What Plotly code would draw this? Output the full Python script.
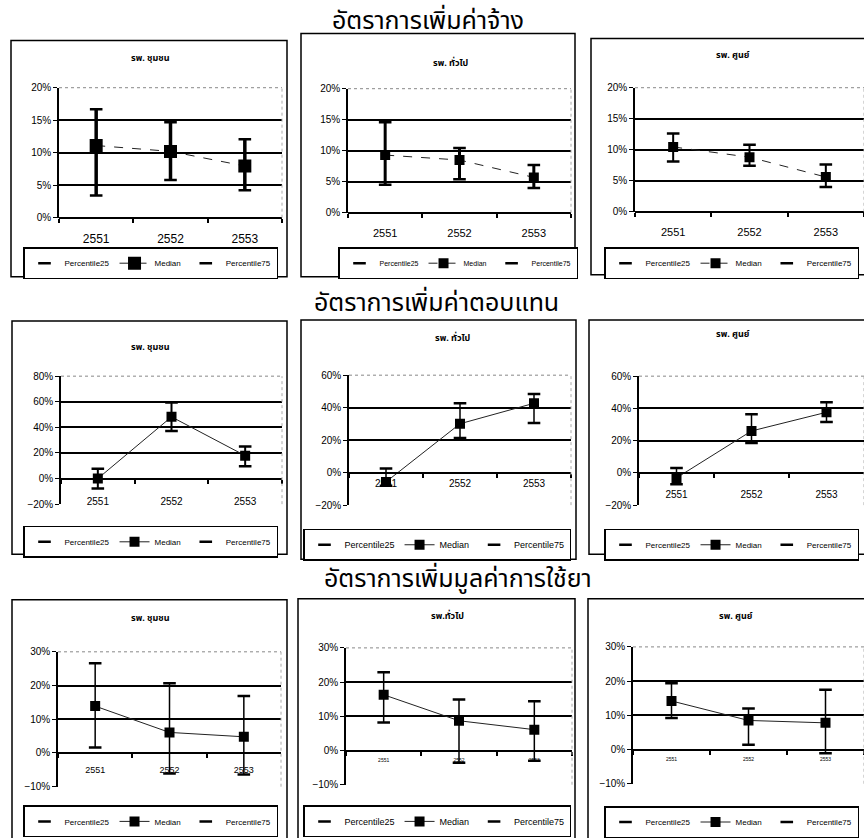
import plotly.graph_objects as go

W, H = 864, 838

categories = ["2551", "2552", "2553"]

# อัตราการเพิ่มค่าจ้าง (wage increase, %)
wage_comm_p25 = [3.4, 5.8, 4.2]
wage_comm_med = [11.1, 10.2, 7.95]
wage_comm_p75 = [16.7, 14.7, 12.05]
wage_gen_p25 = [4.5, 5.4, 4.0]
wage_gen_med = [9.3, 8.5, 5.7]
wage_gen_p75 = [14.6, 10.45, 7.7]
wage_cen_p25 = [8.1, 7.4, 4.0]
wage_cen_med = [10.45, 8.8, 5.6]
wage_cen_p75 = [12.6, 10.8, 7.6]

# อัตราการเพิ่มค่าตอบแทน (compensation increase, %)
comp_comm_p25 = [-7.7, 37.2, 9.7]
comp_comm_med = [0.0, 48.2, 17.9]
comp_comm_p75 = [7.7, 59.5, 25.0]
comp_gen_p25 = [-8.0, 21.4, 30.5]
comp_gen_med = [-5.7, 30.1, 42.7]
comp_gen_p75 = [2.6, 42.7, 48.4]
comp_cen_p25 = [-7.0, 18.6, 31.5]
comp_cen_med = [-3.1, 26.0, 37.6]
comp_cen_p75 = [3.1, 36.4, 43.8]

# อัตราการเพิ่มมูลค่าการใช้ยา (drug cost increase, %)
drug_comm_p25 = [1.6, -6.1, -6.4]
drug_comm_med = [13.9, 6.1, 4.8]
drug_comm_p75 = [26.6, 20.7, 16.9]
drug_gen_p25 = [8.2, -3.6, -3.0]
drug_gen_med = [16.3, 8.7, 6.1]
drug_gen_p75 = [22.9, 14.9, 14.4]
drug_cen_p25 = [9.2, 1.4, -1.1]
drug_cen_med = [14.2, 8.5, 7.8]
drug_cen_p75 = [19.4, 12.0, 17.5]

section_titles = ["อัตราการเพิ่มค่าจ้าง", "อัตราการเพิ่มค่าตอบแทน", "อัตราการเพิ่มมูลค่าการใช้ยา"]
panel_titles = ["รพ. ชุมชน", "รพ. ทั่วไป", "รพ. ศูนย์",
                "รพ. ชุมชน", "รพ. ทั่วไป", "รพ. ศูนย์",
                "รพ. ชุมชน", "รพ.ทั่วไป", "รพ. ศูนย์"]
series_names = ["Percentile25", "Median", "Percentile75"]

panels_data = [
    (wage_comm_p25, wage_comm_med, wage_comm_p75),
    (wage_gen_p25, wage_gen_med, wage_gen_p75),
    (wage_cen_p25, wage_cen_med, wage_cen_p75),
    (comp_comm_p25, comp_comm_med, comp_comm_p75),
    (comp_gen_p25, comp_gen_med, comp_gen_p75),
    (comp_cen_p25, comp_cen_med, comp_cen_p75),
    (drug_comm_p25, drug_comm_med, drug_comm_p75),
    (drug_gen_p25, drug_gen_med, drug_gen_p75),
    (drug_cen_p25, drug_cen_med, drug_cen_p75),
]
y_ranges = [(0, 20, 5), (0, 20, 5), (0, 20, 5),
            (-20, 80, 20), (-20, 60, 20), (-20, 60, 20),
            (-10, 30, 10), (-10, 30, 10), (-10, 30, 10)]

# layout geometry (pixels)
plot_boxes = [  # x0, x1, y0(top), y1(bottom)
    (59, 282, 83, 215), (348, 571, 84, 210), (635, 866, 83, 209),
    (61, 282, 376, 506), (349, 571, 375, 507), (639, 865, 376, 507),
    (58, 281, 656, 793), (346, 572, 652, 791), (633, 867, 651, 790),
]
frames = [
    (11, 287, 35, 275), (301, 575, 28, 275), (591, 870, 33, 273),
    (12, 287, 320, 557), (301, 576, 319, 562), (589, 870, 319, 557),
    (12, 287, 603, 850), (298, 575, 602, 850), (588, 870, 602, 850),
]
title_pos = [(150, 53), (451, 58), (733, 50),
             (150, 346), (453, 337), (733, 333),
             (150, 622), (447, 620), (736, 620)]
legend_pos = [(23, 245), (338, 245), (604, 245),
              (23, 528), (303, 531), (604, 531),
              (23, 812), (303, 812), (604, 813)]
legend_font = [8, 7, 8, 8, 9, 8, 8, 9, 8]
marker_sizes = [13, 10, 10, 10, 10, 10, 10, 10, 10]
whisker_w = [3.5, 3, 2, 2, 1.5, 1.5, 1.5, 1.5, 1.5]
xtick_sizes = [12, 11, 11, 10, 10, 10, 9, 5, 5]
xtick_standoff = [10, 10, 10, 13, 1, 12, 8, 4, 4]

THAI = "Noto Sans Thai, Loma, Garuda, Tlwg Typo, Noto Sans, sans-serif"
ARIAL = "Liberation Sans, Arial, sans-serif"

def px(x):
    return x / W

def py(y):
    return 1 - y / H

fig = go.Figure()
shapes = []
annotations = []

for i, (p25, med, p75) in enumerate(panels_data):
    n = i + 1
    xa = "x" if n == 1 else f"x{n}"
    ya = "y" if n == 1 else f"y{n}"
    lg = "legend" if n == 1 else f"legend{n}"
    ymin, ymax, dt = y_ranges[i]
    x0, x1, ytop, ybot = plot_boxes[i]

    up = [b - a for a, b in zip(med, p75)]
    dn = [a - b for a, b in zip(med, p25)]

    fig.add_trace(go.Scatter(
        x=categories, y=p25, name=series_names[0], mode="markers",
        marker=dict(symbol="line-ew", size=9, color="black",
                    line=dict(color="black", width=2.5)),
        xaxis=xa, yaxis=ya, legend=lg, showlegend=True))
    fig.add_trace(go.Scatter(
        x=categories, y=med, name=series_names[1], mode="lines+markers",
        line=dict(color="#222", width=1, dash="dash" if i < 3 else "solid"),
        marker=dict(symbol="square", size=marker_sizes[i], color="black"),
        error_y=dict(type="data", symmetric=False, array=up, arrayminus=dn,
                     color="black", thickness=whisker_w[i], width=0),
        xaxis=xa, yaxis=ya, legend=lg, showlegend=True))
    fig.add_trace(go.Scatter(
        x=categories, y=p75, name=series_names[2], mode="markers",
        marker=dict(symbol="line-ew", size=9, color="black",
                    line=dict(color="black", width=2.5)),
        xaxis=xa, yaxis=ya, legend=lg, showlegend=True))

    dom_y0 = py(ybot)
    dom_y1 = py(ytop)
    zero_pos = dom_y0 + (0 - ymin) / (ymax - ymin) * (dom_y1 - dom_y0)

    xkey = "xaxis" if n == 1 else f"xaxis{n}"
    ykey = "yaxis" if n == 1 else f"yaxis{n}"
    fig.update_layout(**{
        xkey: dict(domain=[px(x0), min(px(x1), 1.0)], anchor="free", position=zero_pos,
                   type="category", range=[-0.5, 2.5], tickson="boundaries",
                   ticks="outside", ticklen=4, tickwidth=1.5, tickcolor="black",
                   ticklabelstandoff=xtick_standoff[i],
                   showline=True, linecolor="black", linewidth=2,
                   showgrid=False, zeroline=False,
                   tickfont=dict(family=ARIAL, size=xtick_sizes[i], color="black"),
                   fixedrange=True),
        ykey: dict(domain=[dom_y0, dom_y1], anchor=xa, range=[ymin, ymax],
                   dtick=dt, tick0=0, ticksuffix="%",
                   ticks="outside", ticklen=4, tickcolor="black",
                   showline=True, linecolor="black", linewidth=1.5,
                   showgrid=True, gridcolor="black", gridwidth=1.5,
                   zeroline=False,
                   tickfont=dict(family=ARIAL, size=10, color="black"),
                   fixedrange=True),
        lg: dict(x=px(legend_pos[i][0]), y=py(legend_pos[i][1]),
                 xanchor="left", yanchor="top", orientation="h",
                 bordercolor="black", borderwidth=1.5, bgcolor="white",
                 font=dict(family=ARIAL, size=legend_font[i], color="black"),
                 itemwidth=30, tracegroupgap=0, itemclick=False),
    })

    # top border of plot area: dotted grey
    shapes.append(dict(type="line", xref=f"{xa} domain", yref=f"{ya} domain",
                       x0=0, x1=1, y0=1, y1=1, line=dict(color="white", width=3), layer="above"))
    shapes.append(dict(type="line", xref=f"{xa} domain", yref=f"{ya} domain",
                       x0=0, x1=1, y0=1, y1=1, line=dict(color="#888", width=1, dash="dot"), layer="above"))
    # right border dotted
    shapes.append(dict(type="line", xref=f"{xa} domain", yref=f"{ya} domain",
                       x0=1, x1=1, y0=0, y1=1, line=dict(color="#aaa", width=1, dash="dot"), layer="above"))
    # frame
    fx0, fx1, fy0, fy1 = frames[i]
    shapes.append(dict(type="rect", xref="paper", yref="paper",
                       x0=px(fx0), x1=px(fx1), y0=py(fy1), y1=py(fy0),
                       line=dict(color="black", width=1.5), layer="below"))
    # panel title
    tx, ty = title_pos[i]
    annotations.append(dict(text="<b>" + panel_titles[i] + "</b>", xref="paper", yref="paper",
                            x=px(tx), y=py(ty), xanchor="center", yanchor="middle",
                            showarrow=False,
                            font=dict(family=THAI, size=9, color="black")))

section_pos = [(428, 15), (436, 302), (458, 582)]
for t, (sx, sy) in zip(section_titles, section_pos):
    annotations.append(dict(text=t, xref="paper", yref="paper",
                            x=px(sx), y=py(sy), xanchor="center", yanchor="middle",
                            showarrow=False,
                            font=dict(family=THAI, size=25, color="black")))

fig.update_layout(width=W, height=H, margin=dict(l=0, r=0, t=0, b=0),
                  paper_bgcolor="white", plot_bgcolor="white",
                  shapes=shapes, annotations=annotations)

fig.write_html("out.html", config=dict(displayModeBar=False),
               post_script="document.body.style.margin='0';document.body.style.overflow='hidden';")
